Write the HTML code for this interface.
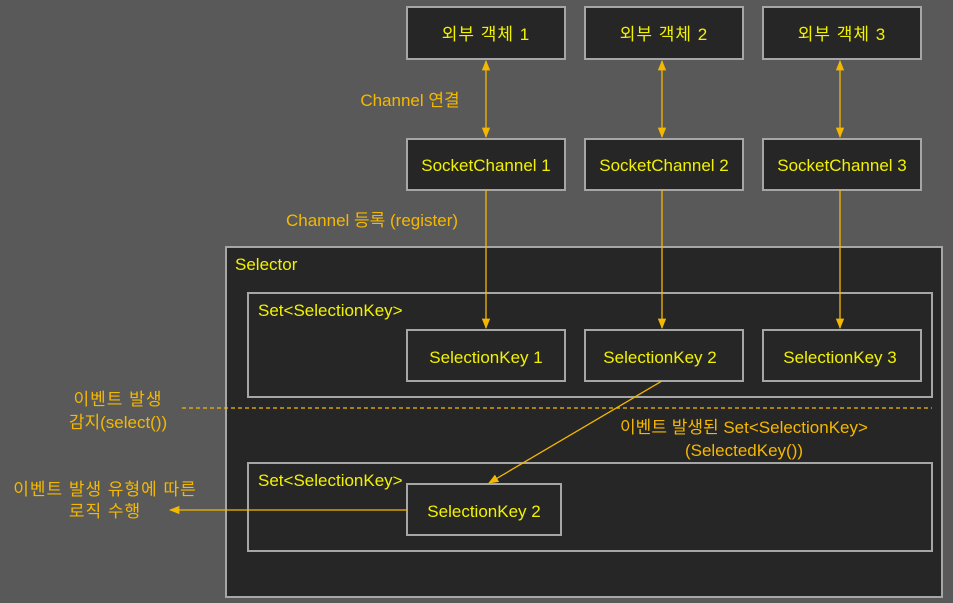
<!DOCTYPE html>
<html><head><meta charset="utf-8"><style>
body{margin:0;background:#595959;}
svg{display:block;}
text{font-family:"Liberation Sans","Noto Sans CJK KR",sans-serif;font-size:17px;}
.y{fill:#f2f200;}
.o{fill:#f5b800;}
.b{fill:#262626;stroke:#a6a6a6;stroke-width:2;}
.l{stroke:#f5b800;stroke-width:1.3;fill:none;}
.k{letter-spacing:1px;}
</style></head><body>
<svg width="953" height="603" viewBox="0 0 953 603">
<defs>
<marker id="a" viewBox="0 0 10 10" refX="9" refY="5" markerWidth="8" markerHeight="8" orient="auto-start-reverse"><path d="M0,1 L10,5 L0,9 z" fill="#f5b800"/></marker>
</defs>
<rect x="0" y="0" width="953" height="603" fill="#595959"/>
<rect class="b" x="226" y="247" width="716" height="350"/>
<rect class="b" x="248" y="293" width="684" height="104"/>
<rect class="b" x="248" y="463" width="684" height="88"/>

<rect class="b" x="407" y="7" width="158" height="52"/>
<rect class="b" x="585" y="7" width="158" height="52"/>
<rect class="b" x="763" y="7" width="158" height="52"/>
<rect class="b" x="407" y="139" width="158" height="51"/>
<rect class="b" x="585" y="139" width="158" height="51"/>
<rect class="b" x="763" y="139" width="158" height="51"/>
<rect class="b" x="407" y="330" width="158" height="51"/>
<rect class="b" x="585" y="330" width="158" height="51"/>
<rect class="b" x="763" y="330" width="158" height="51"/>
<rect class="b" x="407" y="484" width="154" height="51"/>

<g class="y" text-anchor="middle">
<text class="k" x="486" y="40">외부 객체 1</text>
<text class="k" x="664" y="40">외부 객체 2</text>
<text class="k" x="842" y="40">외부 객체 3</text>
<text x="486" y="171">SocketChannel 1</text>
<text x="664" y="171">SocketChannel 2</text>
<text x="842" y="171">SocketChannel 3</text>
<text x="486" y="363">SelectionKey 1</text>
<text x="660" y="363">SelectionKey 2</text>
<text x="840" y="363">SelectionKey 3</text>
<text x="484" y="517">SelectionKey 2</text>
</g>
<g class="y">
<text x="235" y="270">Selector</text>
<text x="258" y="316">Set&lt;SelectionKey&gt;</text>
<text x="258" y="486">Set&lt;SelectionKey&gt;</text>
</g>

<line class="l" x1="486" y1="61" x2="486" y2="137" marker-start="url(#a)" marker-end="url(#a)"/>
<line class="l" x1="662" y1="61" x2="662" y2="137" marker-start="url(#a)" marker-end="url(#a)"/>
<line class="l" x1="840" y1="61" x2="840" y2="137" marker-start="url(#a)" marker-end="url(#a)"/>
<line class="l" x1="486" y1="190" x2="486" y2="328" marker-end="url(#a)"/>
<line class="l" x1="662" y1="190" x2="662" y2="328" marker-end="url(#a)"/>
<line class="l" x1="840" y1="190" x2="840" y2="328" marker-end="url(#a)"/>
<line class="l" x1="662" y1="381" x2="489" y2="483" marker-end="url(#a)"/>
<line class="l" x1="407" y1="510" x2="170" y2="510" marker-end="url(#a)"/>
<line class="l" x1="182" y1="408" x2="932" y2="408" stroke-dasharray="4,3"/>

<g class="o" text-anchor="middle">
<text x="410" y="106">Channel 연결</text>
<text x="372" y="226">Channel 등록 (register)</text>
<text class="k" x="118" y="405">이벤트 발생</text>
<text x="118" y="428">감지(select())</text>
<text x="744" y="433">이벤트 발생된 Set&lt;SelectionKey&gt;</text>
<text x="744" y="456">(SelectedKey())</text>
<text class="k" x="105" y="495">이벤트 발생 유형에 따른</text>
<text class="k" x="105" y="517">로직 수행</text>
</g>
</svg>
</body></html>
